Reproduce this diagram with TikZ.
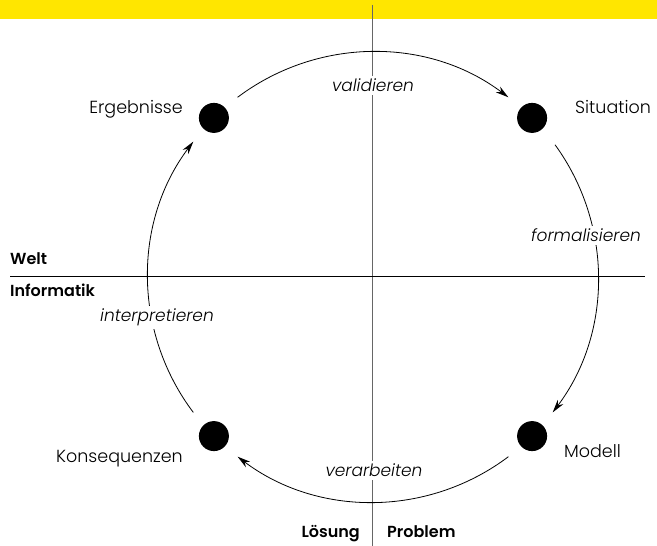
\documentclass[tikz,border=0pt]{standalone}
\usepackage{fontspec}
\setmainfont{Poppins}[UprightFont=* Light, ItalicFont=* Light Italic, BoldFont=* SemiBold]
\usetikzlibrary{arrows.meta,calc}
\definecolor{bandyellow}{HTML}{FFE600}
\definecolor{axisgray}{HTML}{666666}
\begin{document}
\begin{tikzpicture}[x=1pt,y=1pt,
  dot/.style={circle,fill=black,minimum size=30pt,inner sep=0pt},
  statelabel/.style={font=\fontsize{17.5}{20}\selectfont,inner sep=0pt},
  actlabel/.style={font=\fontsize{17}{20}\selectfont\itshape,fill=white,inner sep=3pt,anchor=base},
  sidelabel/.style={font=\fontsize{16}{19}\selectfont\bfseries,inner sep=0pt},
  cyclearc/.style={line width=0.8pt,-{Stealth[length=13pt,width=7pt]}},
  axis/.style={line width=1pt}]
\useasboundingbox (0,0) rectangle (657,546);
\fill[bandyellow] (0,527) rectangle (657,546);
\coordinate (c) at (373,269);
\def\R{225pt}
% axes
\coordinate (vtop) at (372,541);
\coordinate (vbot) at (372,0);
\coordinate (hl) at (10,269);
\coordinate (hr) at (645,269);
\draw[axis,axisgray] (vtop) -- (vbot);
\draw[axis,black] (hl) -- (hr);
% dots
\node[dot] (erg) at ($(c)+(135:\R)$) {};
\node[dot] (sit) at ($(c)+(45:\R)$) {};
\node[dot] (mod) at ($(c)+(-45:\R)$) {};
\node[dot] (kon) at ($(c)+(-135:\R)$) {};
% arcs
\draw[cyclearc] ($(c)+(127:\R)$) arc[start angle=127,end angle=53,radius=\R];
\draw[cyclearc] ($(c)+(36:\R)$) arc[start angle=36,end angle=-37,radius=\R];
\draw[cyclearc] ($(c)+(-53:\R)$) arc[start angle=-53,end angle=-127,radius=\R];
\draw[cyclearc] ($(c)+(217:\R)$) arc[start angle=217,end angle=143,radius=\R];
% activity labels
\node[actlabel] (val) at (373,454) {validieren};
\node[actlabel] (form) at (586,304) {formalisieren};
\node[actlabel] (verarb) at (374,69) {verarbeiten};
\node[actlabel] (interp) at (157,224) {interpretieren};
% state labels
\node[statelabel,anchor=base east] (tErg) at (183,432) {Ergebnisse};
\node[statelabel,anchor=base west] (tSit) at (575,432) {Situation};
\node[statelabel,anchor=base east] (tKon) at (183,83) {Konsequenzen};
\node[statelabel,anchor=base west] (tMod) at (564,88) {Modell};
% side labels
\node[sidelabel,anchor=base west] (welt) at (10,281) {Welt};
\node[sidelabel,anchor=base west] (inf) at (10,249) {Informatik};
\node[sidelabel,anchor=base east] (loes) at (360,8) {Lösung};
\node[sidelabel,anchor=base west] (prob) at (387,8) {Problem};
\end{tikzpicture}
\end{document}
